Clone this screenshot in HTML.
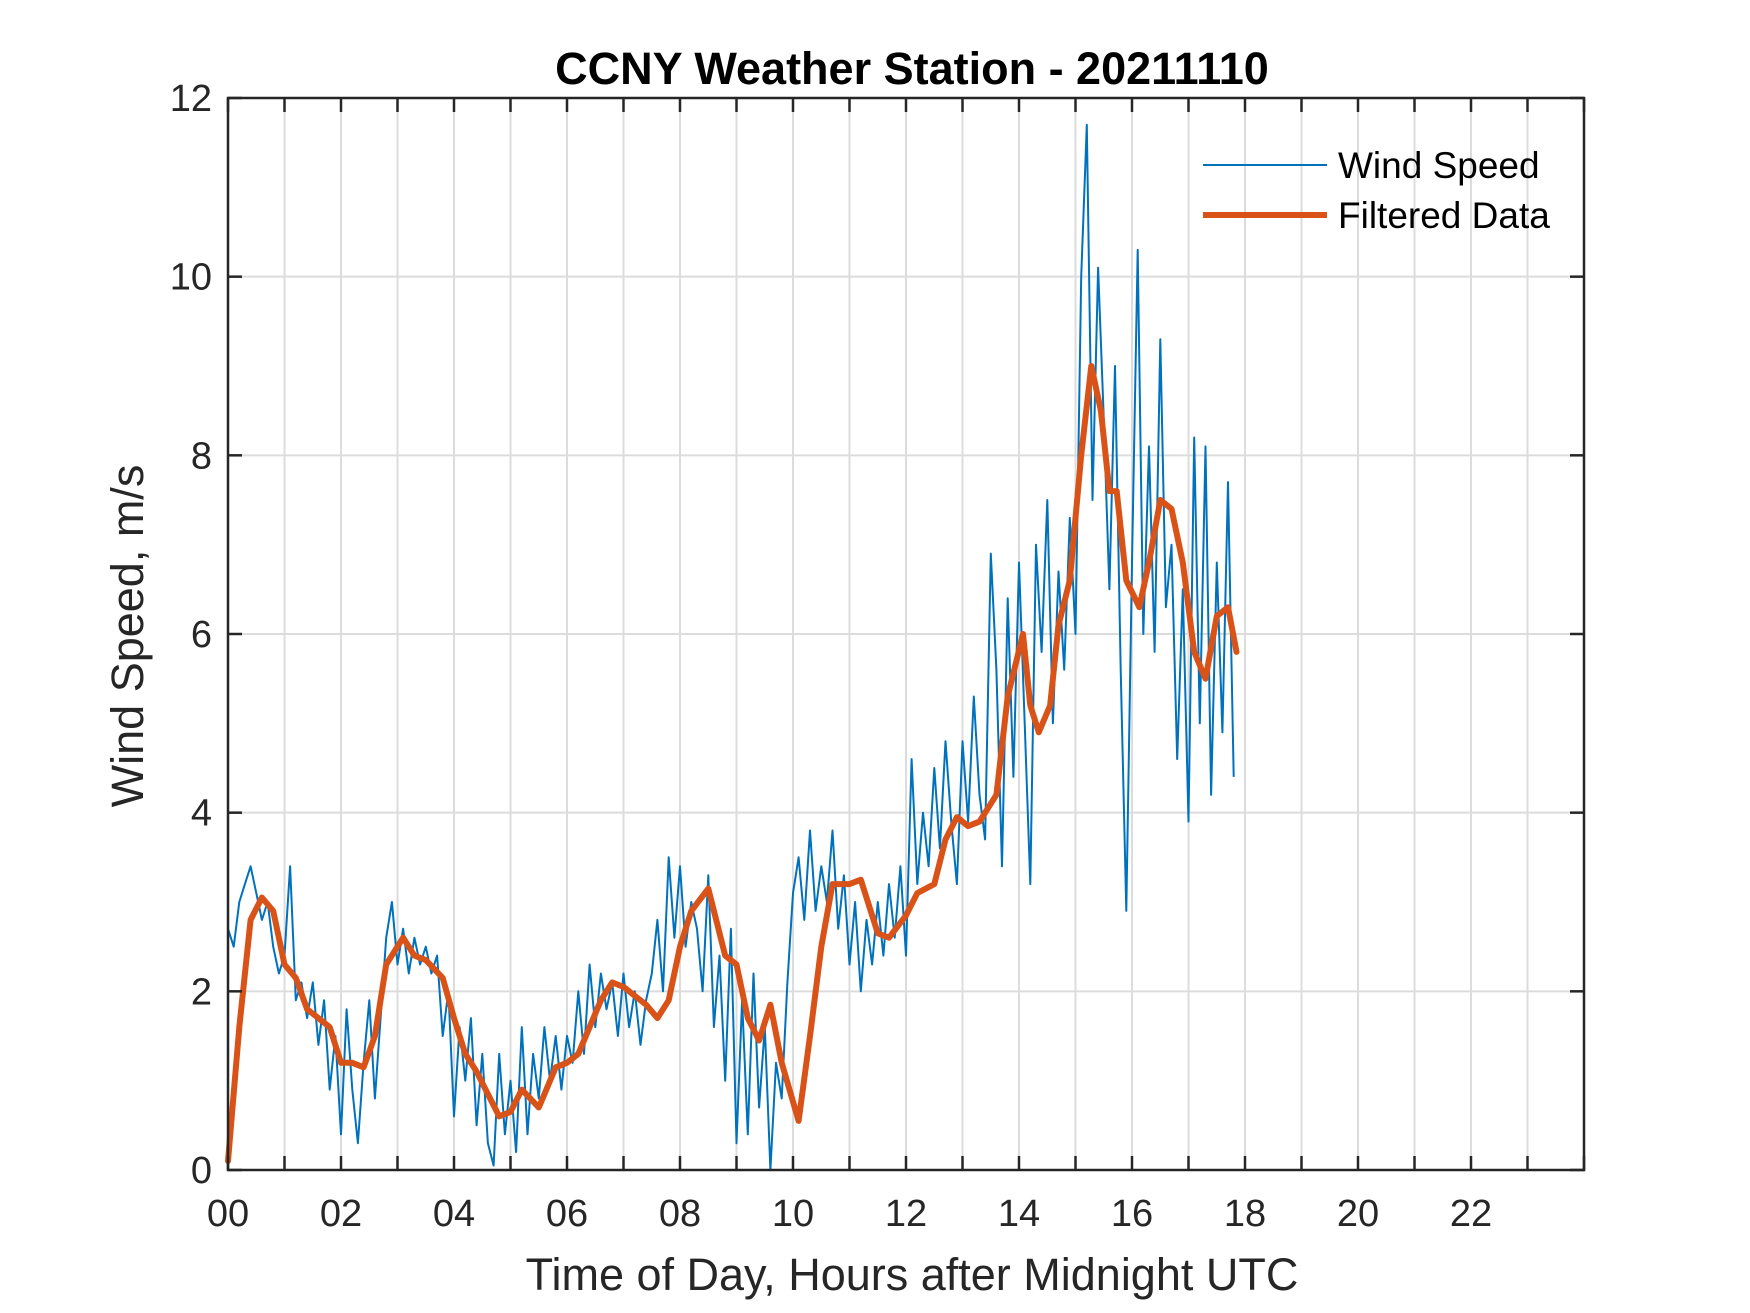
<!DOCTYPE html>
<html><head><meta charset="utf-8"><style>
html,body{margin:0;padding:0;background:#fff;}
svg{display:block;font-family:"Liberation Sans",Arial,sans-serif;}
</style></head><body>
<svg id="chart" width="1750" height="1313" viewBox="0 0 1750 1313" xmlns="http://www.w3.org/2000/svg">
<rect width="1750" height="1313" fill="#fff"/>
<g id="grid"></g>
<g id="series"></g>
<g id="axes"></g>
<text x="912" y="84" text-anchor="middle" font-size="45" font-weight="bold" fill="#000">CCNY Weather Station - 20211110</text>
<text x="912" y="1290" text-anchor="middle" font-size="45" fill="#262626">Time of Day, Hours after Midnight UTC</text>
<text x="0" y="0" transform="translate(143,636) rotate(-90)" text-anchor="middle" font-size="45" fill="#262626">Wind Speed, m/s</text>
<g>
<line x1="1203" y1="165" x2="1327" y2="165" stroke="#0072BD" stroke-width="2"/>
<text x="1338" y="178" font-size="37" fill="#000">Wind Speed</text>
<line x1="1203" y1="215" x2="1327" y2="215" stroke="#D95319" stroke-width="6"/>
<text x="1338" y="228" font-size="37" fill="#000">Filtered Data</text>
</g>
</svg>
<script>
const xTicks=[0,2,4,6,8,10,12,14,16,18,20,22];
const xTickLabels=["00","02","04","06","08","10","12","14","16","18","20","22"];
const yTicks=[0,2,4,6,8,10,12];
const yTickLabels=["0","2","4","6","8","10","12"];
const rawHours=[0.0,0.1,0.2,0.3,0.4,0.5,0.6,0.7,0.8,0.9,1.0,1.1,1.2,1.3,1.4,1.5,1.6,1.7,1.8,1.9,2.0,2.1,2.2,2.3,2.4,2.5,2.6,2.7,2.8,2.9,3.0,3.1,3.2,3.3,3.4,3.5,3.6,3.7,3.8,3.9,4.0,4.1,4.2,4.3,4.4,4.5,4.6,4.7,4.8,4.9,5.0,5.1,5.2,5.3,5.4,5.5,5.6,5.7,5.8,5.9,6.0,6.1,6.2,6.3,6.4,6.5,6.6,6.7,6.8,6.9,7.0,7.1,7.2,7.3,7.4,7.5,7.6,7.7,7.8,7.9,8.0,8.1,8.2,8.3,8.4,8.5,8.6,8.7,8.8,8.9,9.0,9.1,9.2,9.3,9.4,9.5,9.6,9.7,9.8,9.9,10.0,10.1,10.2,10.3,10.4,10.5,10.6,10.7,10.8,10.9,11.0,11.1,11.2,11.3,11.4,11.5,11.6,11.7,11.8,11.9,12.0,12.1,12.2,12.3,12.4,12.5,12.6,12.7,12.8,12.9,13.0,13.1,13.2,13.3,13.4,13.5,13.6,13.7,13.8,13.9,14.0,14.1,14.2,14.3,14.4,14.5,14.6,14.7,14.8,14.9,15.0,15.1,15.2,15.3,15.4,15.5,15.6,15.7,15.8,15.9,16.0,16.1,16.2,16.3,16.4,16.5,16.6,16.7,16.8,16.9,17.0,17.1,17.2,17.3,17.4,17.5,17.6,17.7,17.8];
const rawSpeed=[2.7,2.5,3.0,3.2,3.4,3.1,2.8,3.0,2.5,2.2,2.4,3.4,1.9,2.1,1.7,2.1,1.4,1.9,0.9,1.5,0.4,1.8,0.9,0.3,1.2,1.9,0.8,1.7,2.6,3.0,2.3,2.7,2.2,2.6,2.3,2.5,2.2,2.4,1.5,2.0,0.6,1.6,1.0,1.7,0.5,1.3,0.3,0.05,1.3,0.4,1.0,0.2,1.6,0.4,1.3,0.8,1.6,1.0,1.5,0.9,1.5,1.2,2.0,1.3,2.3,1.6,2.2,1.8,2.1,1.5,2.2,1.6,2.0,1.4,1.9,2.2,2.8,2.0,3.5,2.6,3.4,2.5,3.0,2.7,2.0,3.3,1.6,2.4,1.0,2.7,0.3,1.9,0.4,2.2,0.7,1.6,0.0,1.2,0.8,2.1,3.1,3.5,2.8,3.8,2.9,3.4,3.0,3.8,2.7,3.3,2.3,3.0,2.0,2.8,2.3,3.0,2.4,3.2,2.6,3.4,2.4,4.6,3.2,4.0,3.4,4.5,3.6,4.8,3.9,3.2,4.8,3.9,5.3,4.2,3.7,6.9,5.6,3.4,6.4,4.4,6.8,5.0,3.2,7.0,5.8,7.5,5.0,6.7,5.6,7.3,6.0,10.0,11.7,7.5,10.1,8.4,6.5,9.0,5.6,2.9,6.8,10.3,6.0,8.1,5.8,9.3,6.3,7.0,4.6,6.5,3.9,8.2,5.0,8.1,4.2,6.8,4.9,7.7,4.4];
const filtHours=[0.0,0.2,0.4,0.6,0.8,1.0,1.2,1.4,1.6,1.8,2.0,2.2,2.4,2.6,2.8,3.1,3.3,3.5,3.8,4.0,4.2,4.4,4.6,4.8,5.0,5.2,5.5,5.8,6.0,6.2,6.4,6.6,6.8,7.0,7.2,7.4,7.6,7.8,8.0,8.2,8.5,8.6,8.8,9.0,9.2,9.4,9.6,9.8,10.1,10.3,10.5,10.7,11.0,11.2,11.5,11.7,12.0,12.2,12.5,12.7,12.9,13.1,13.3,13.6,13.8,14.07,14.2,14.35,14.55,14.7,14.9,15.1,15.28,15.45,15.6,15.73,15.9,16.13,16.3,16.5,16.7,16.9,17.1,17.3,17.5,17.7,17.85];
const filtSpeed=[0.1,1.6,2.8,3.05,2.9,2.3,2.15,1.8,1.7,1.6,1.2,1.2,1.15,1.5,2.3,2.6,2.4,2.35,2.15,1.7,1.3,1.1,0.85,0.6,0.65,0.9,0.7,1.15,1.2,1.3,1.6,1.9,2.1,2.05,1.95,1.85,1.7,1.9,2.5,2.9,3.15,2.9,2.4,2.3,1.7,1.45,1.85,1.2,0.55,1.5,2.5,3.2,3.2,3.25,2.65,2.6,2.85,3.1,3.2,3.7,3.95,3.85,3.9,4.2,5.3,6.0,5.2,4.9,5.2,6.1,6.6,8.0,9.0,8.5,7.6,7.6,6.6,6.3,6.8,7.5,7.4,6.8,5.8,5.5,6.2,6.3,5.8];

const NS="http://www.w3.org/2000/svg";
const L=228,R=1584,T=98,B=1170;
const xMin=0,xMax=24,yMin=0,yMax=12;
function xs(v){return L+(v-xMin)/(xMax-xMin)*(R-L);}
function ys(v){return B-(v-yMin)/(yMax-yMin)*(B-T);}
function mk(tag,attrs,parent){const e=document.createElementNS(NS,tag);for(const k in attrs)e.setAttribute(k,attrs[k]);parent.appendChild(e);return e;}
const grid=document.getElementById('grid'),axes=document.getElementById('axes'),series=document.getElementById('series');
for(let h=1;h<24;h++){
  const g=mk('line',{x1:xs(h),x2:xs(h),y1:T,y2:B,stroke:'#dcdcdc','stroke-width':2},grid);
  
  
}
yTicks.forEach((v,i)=>{
  if(v>yMin&&v<yMax){
    const g=mk('line',{x1:L,x2:R,y1:ys(v),y2:ys(v),stroke:'#dcdcdc','stroke-width':2},grid);
    
    
  }
  const t1=mk('line',{x1:L,x2:L+14,y1:ys(v),y2:ys(v),stroke:'#262626','stroke-width':2.5},axes);
  
  
  const t2=mk('line',{x1:R-14,x2:R,y1:ys(v),y2:ys(v),stroke:'#262626','stroke-width':2.5},axes);
  
  
  const lb=mk('text',{x:L-16,y:ys(v)+13,'text-anchor':'end','font-size':38,fill:'#262626'},axes);
  lb.textContent=yTickLabels[i];
  
  
});
for(let h=0;h<=24;h++){
  const t1=mk('line',{x1:xs(h),x2:xs(h),y1:B,y2:B-14,stroke:'#262626','stroke-width':2.5},axes);
  
  
  const t2=mk('line',{x1:xs(h),x2:xs(h),y1:T,y2:T+14,stroke:'#262626','stroke-width':2.5},axes);
  
  
}
xTicks.forEach((v,i)=>{
  const lb=mk('text',{x:xs(v),y:B+56,'text-anchor':'middle','font-size':38,fill:'#262626'},axes);
  lb.textContent=xTickLabels[i];
  
  
});
const box=mk('rect',{x:L,y:T,width:R-L,height:B-T,fill:'none',stroke:'#262626','stroke-width':2.5},axes);


const rawPts=rawHours.map((h,i)=>xs(h).toFixed(1)+','+ys(rawSpeed[i]).toFixed(1)).join(' ');
const raw=mk('polyline',{points:rawPts,fill:'none',stroke:'#0072BD','stroke-width':2,'stroke-linejoin':'round'},series);


const fPts=filtHours.map((h,i)=>xs(h).toFixed(1)+','+ys(filtSpeed[i]).toFixed(1)).join(' ');
const f=mk('polyline',{points:fPts,fill:'none',stroke:'#D95319','stroke-width':6,'stroke-linejoin':'round','stroke-linecap':'round'},series);


</script>
</body></html>
